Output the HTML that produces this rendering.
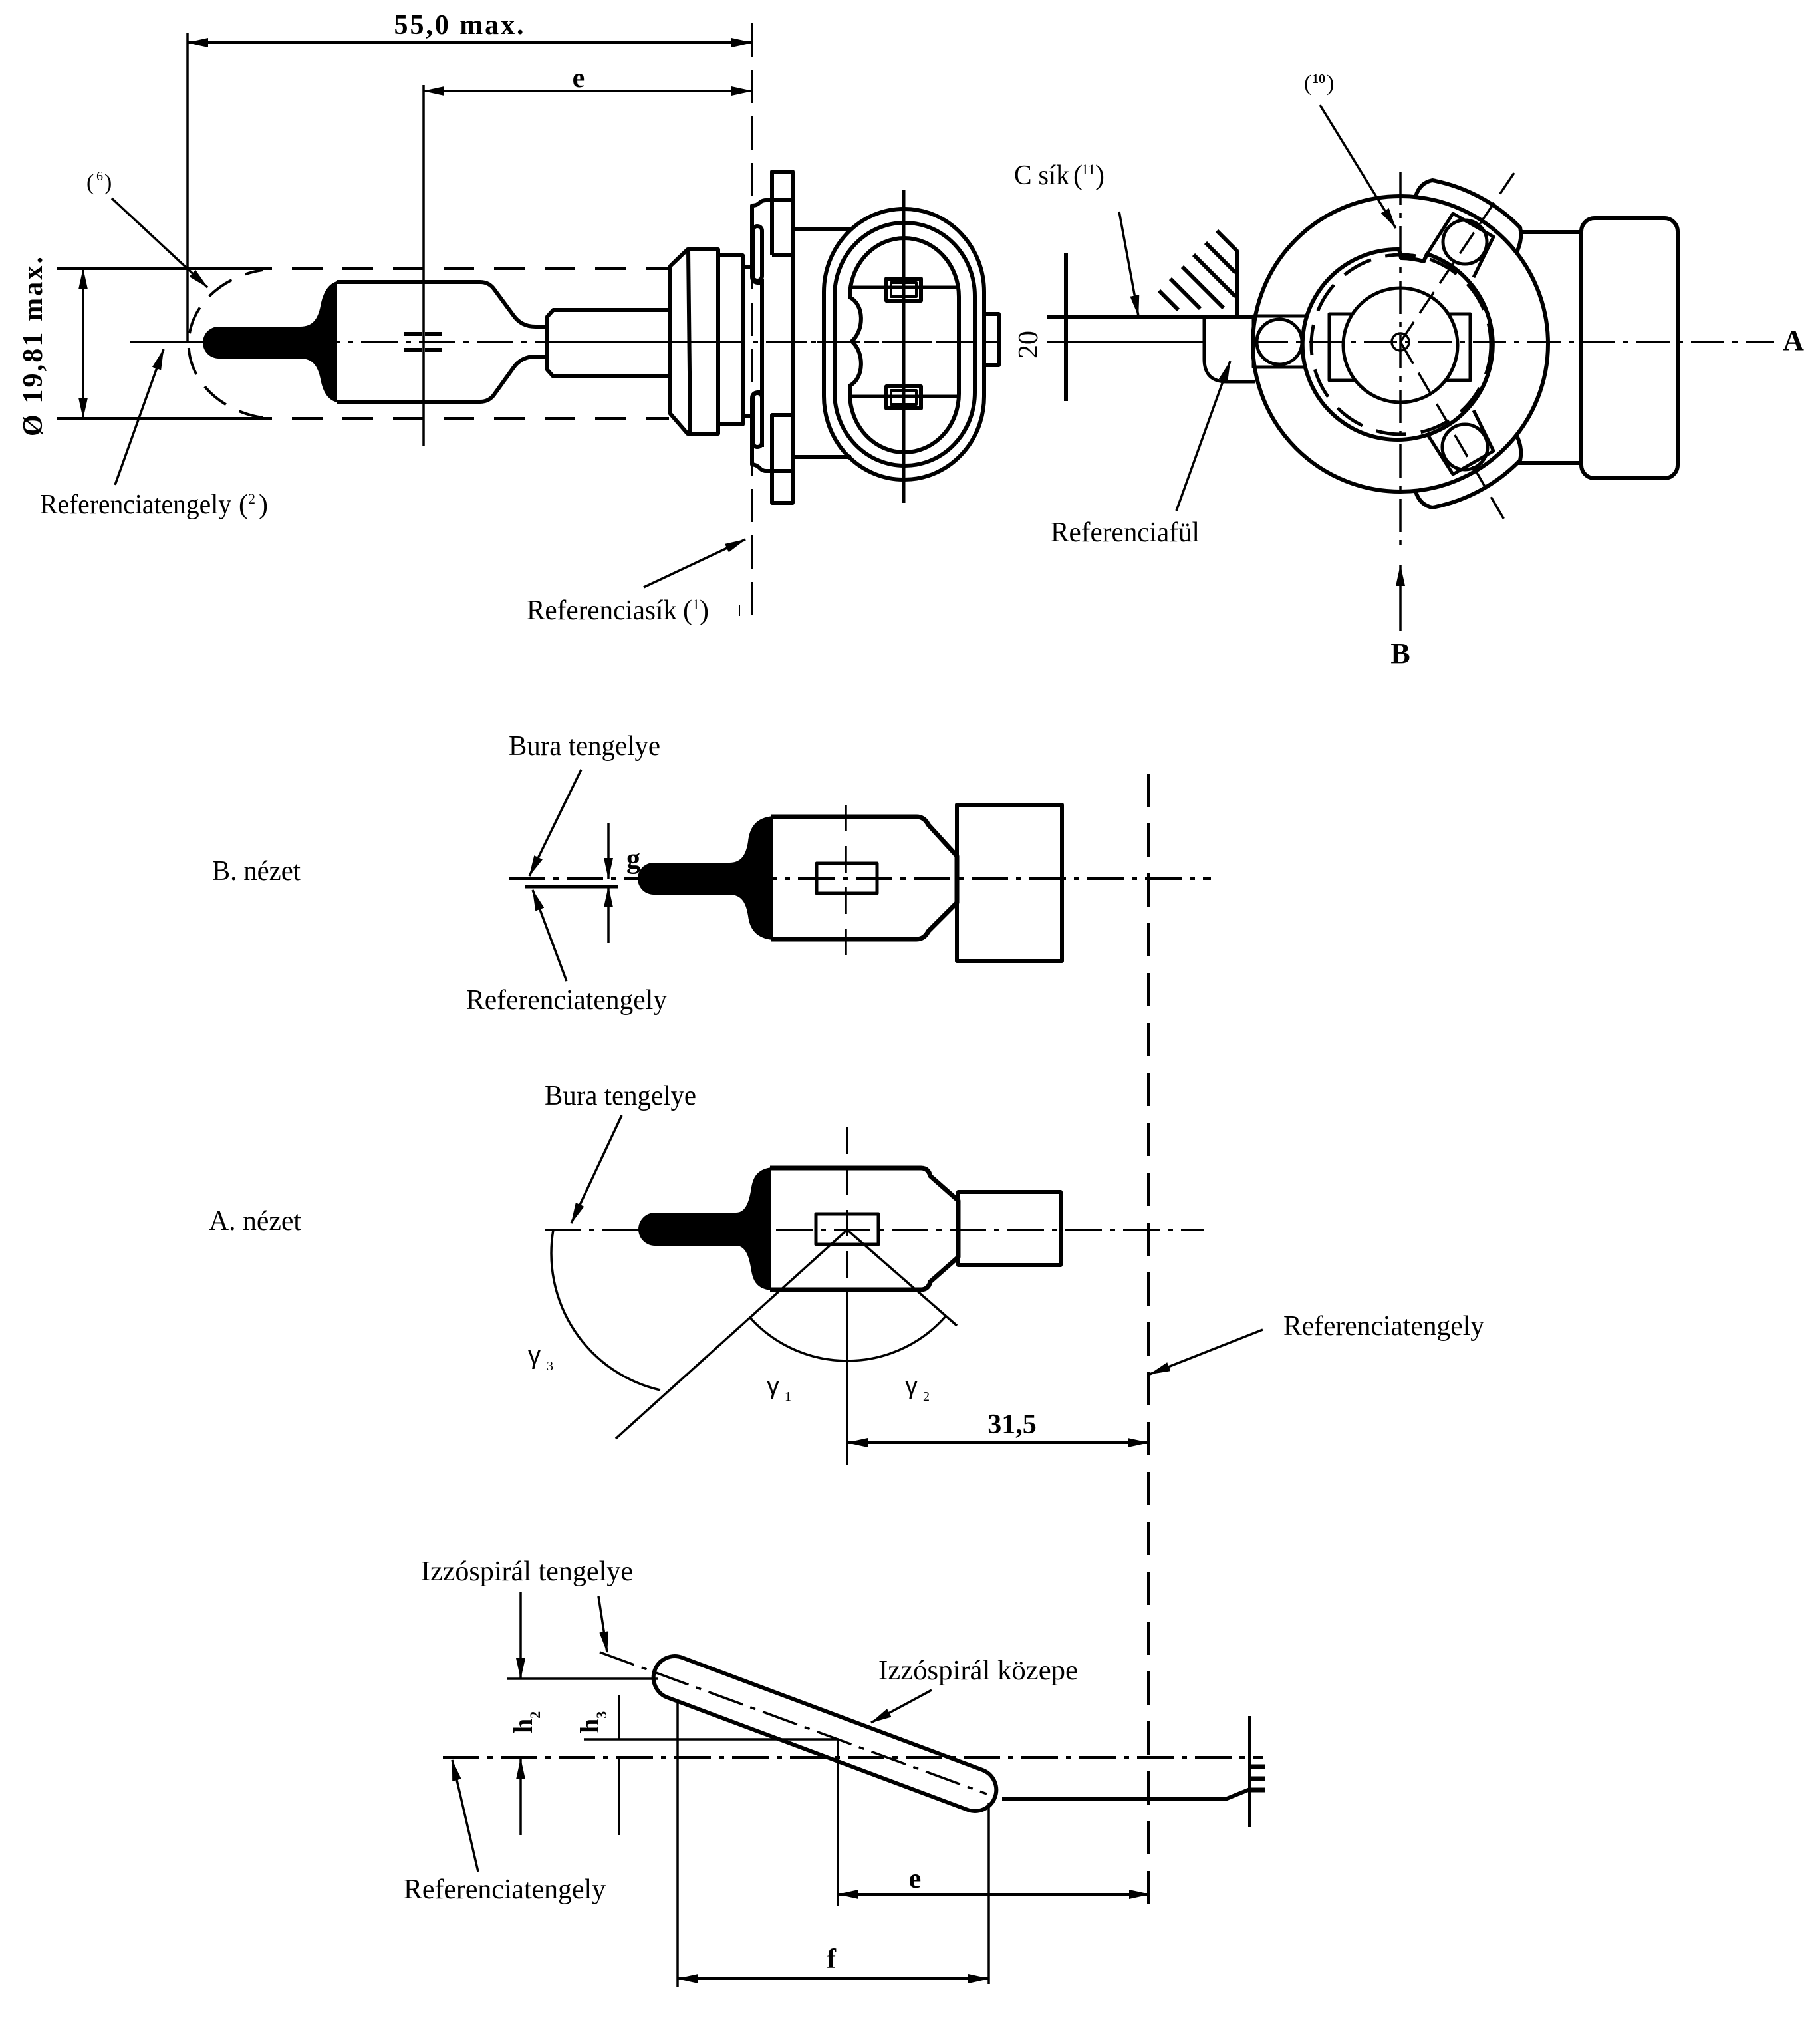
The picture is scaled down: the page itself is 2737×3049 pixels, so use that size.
<!DOCTYPE html>
<html><head><meta charset="utf-8"><style>
html,body{margin:0;padding:0;background:#fff}
svg{display:block}
text{font-family:"Liberation Serif",serif;fill:#000;stroke:none}
.b{font-weight:bold}
.s{font-family:"Liberation Sans",sans-serif}
</style></head><body>
<svg xmlns="http://www.w3.org/2000/svg" width="2737" height="3049" viewBox="0 0 2737 3049">
<defs>
<marker id="ar" viewBox="0 0 32 14" refX="31" refY="7" markerWidth="32" markerHeight="14" markerUnits="userSpaceOnUse" orient="auto-start-reverse"><path d="M0,0 L32,7 L0,14 Z" fill="#000"/></marker>
</defs>
<rect width="2737" height="3049" fill="#fff"/>

<!-- ================= TOP VIEW ================= -->
<g fill="none" stroke="#000" stroke-width="4">
  <line x1="282" y1="64" x2="1131" y2="64" marker-start="url(#ar)" marker-end="url(#ar)"/>
  <line x1="282" y1="50" x2="282" y2="512" stroke-width="3.5"/>
  <line x1="637" y1="137" x2="1131" y2="137" marker-start="url(#ar)" marker-end="url(#ar)"/>
  <line x1="637" y1="128" x2="637" y2="670" stroke-width="3.5"/>
  <line x1="86" y1="404" x2="409" y2="404"/>
  <line x1="86" y1="629" x2="409" y2="629"/>
  <line x1="125" y1="404" x2="125" y2="629" marker-start="url(#ar)" marker-end="url(#ar)"/>
  <line x1="409" y1="404" x2="1006" y2="404" stroke-dasharray="46 30" stroke-dashoffset="-30"/>
  <line x1="409" y1="629" x2="1006" y2="629" stroke-dasharray="46 30" stroke-dashoffset="-30"/>
  <line x1="1131" y1="35" x2="1131" y2="930" stroke-dasharray="50 20"/>
  <line x1="1112" y1="910" x2="1112" y2="926" stroke-width="2"/>
  <line x1="195" y1="514" x2="1505" y2="514" stroke-width="3.5" stroke-dasharray="55 12 8 12"/>
  <line x1="236" y1="514" x2="302" y2="514" stroke-width="3.5"/>
  <line x1="823" y1="514" x2="1118" y2="514" stroke-width="3.5"/>
  <path d="M395,406 A137,113 0 0 0 395,628" stroke-dasharray="42 22" stroke-dashoffset="15"/>
  <line x1="608" y1="502" x2="666" y2="502" stroke-width="6" stroke-dasharray="26 5"/>
  <line x1="608" y1="526" x2="666" y2="526" stroke-width="6" stroke-dasharray="26 5"/>
</g>
<path d="M507,423 C495,426 486,438 482,460 C478,480 470,491 451,491 L329,491 A24,24 0 0 0 329,539 L451,539 C470,539 478,550 482,570 C486,592 495,602 507,605 Z" fill="#000"/>
<g fill="none" stroke="#000" stroke-width="6" stroke-linejoin="round">
  <path d="M507,424 L722,424 Q736,424 744,436 L772,474 Q784,491 805,491 L823,491"/>
  <path d="M507,604 L722,604 Q736,604 744,592 L772,553 Q784,536 805,536 L823,536"/>
  <path d="M832,466 L1008,466 L1008,566 L832,566 L823,556 L823,476 Z"/>
  <path d="M1008,400 L1034,375 L1080,375 L1080,652 L1034,652 L1008,622 Z"/>
  <line x1="1035" y1="375" x2="1038" y2="652"/>
  <rect x="1080" y="384" width="37" height="254"/>
  <line x1="1117" y1="401" x2="1131" y2="401"/>
  <line x1="1117" y1="626" x2="1131" y2="626"/>
  <path d="M1161,301 L1152,301 Q1146,301 1142,305 Q1138,309 1131,309 L1131,416 Q1131,424 1139,425 L1146,425"/>
  <rect x="1132" y="340" width="14" height="82" rx="7"/>
  <line x1="1146" y1="419" x2="1146" y2="672"/>
  <path d="M1146,590 L1139,590 Q1131,591 1131,599 L1131,698 Q1138,699 1142,703 Q1146,708 1152,708 L1161,708"/>
  <rect x="1132" y="591" width="14" height="81" rx="7"/>
  <path d="M1161,384 L1161,258 L1192,258 L1192,756 L1161,756 L1161,624 L1192,624"/>
  <line x1="1161" y1="384" x2="1192" y2="384"/>
  <line x1="1161" y1="301" x2="1192" y2="301"/>
  <line x1="1161" y1="708" x2="1192" y2="708"/>
  <line x1="1192" y1="345" x2="1280" y2="345"/>
  <line x1="1192" y1="687" x2="1280" y2="687"/>
  <rect x="1239" y="314" width="241" height="407" rx="120" ry="125"/>
  <rect x="1255" y="335" width="211" height="365" rx="105" ry="110"/>
  <path d="M1360,358 A82,88 0 0 1 1442,446 L1442,592 A82,88 0 0 1 1360,680 A82,88 0 0 1 1278,592 L1278,580 C1300,568 1300,530 1281,513 C1300,496 1300,458 1278,447 A82,88 0 0 1 1360,358 Z"/>
  <line x1="1280" y1="432" x2="1441" y2="432" stroke-width="5"/>
  <line x1="1280" y1="596" x2="1441" y2="596" stroke-width="5"/>
  <rect x="1333" y="419" width="52" height="33"/>
  <rect x="1340" y="425" width="38" height="21" stroke-width="4"/>
  <rect x="1333" y="581" width="52" height="33"/>
  <rect x="1340" y="587" width="38" height="21" stroke-width="4"/>
  <line x1="1359" y1="286" x2="1359" y2="756" stroke-width="5"/>
  <rect x="1480" y="472" width="22" height="77"/>
  <line x1="1192" y1="514" x2="1500" y2="514" stroke-width="3.5" stroke-dasharray="22 14"/>
  <line x1="1603" y1="380" x2="1603" y2="603"/>
  <line x1="1574" y1="477" x2="1887" y2="477"/>
  <line x1="1574" y1="514" x2="1811" y2="514" stroke-width="4"/>
  <line x1="1743" y1="437" x2="1772" y2="466"/>
  <line x1="1760" y1="419" x2="1805" y2="464"/>
  <line x1="1778" y1="401" x2="1840" y2="463"/>
  <line x1="1795" y1="383" x2="1858" y2="446"/>
  <line x1="1813" y1="365" x2="1858" y2="410"/>
  <path d="M1830,347 L1860,377 L1860,477"/>
  <path d="M1811,477 L1811,540 Q1811,574 1845,574 L1887,574" stroke-width="5"/>
</g>

<!-- ================= RIGHT END VIEW ================= -->
<g fill="none" stroke="#000" stroke-width="6" stroke-linejoin="round">
  <rect x="1885" y="475" width="80" height="77" stroke-width="5"/>
  <circle cx="1924" cy="514" r="34" stroke-width="5"/>
  <circle cx="2106" cy="517" r="222"/>
  <path d="M2129,295 Q2135,275 2154,271 A250,250 0 0 1 2286,342 Q2290,360 2281,379"/>
  <path d="M2129,739 Q2135,759 2154,763 A250,250 0 0 0 2286,692 Q2290,674 2281,655"/>
  <line x1="2286" y1="349" x2="2378" y2="349"/>
  <line x1="2282" y1="696" x2="2378" y2="696"/>
  <rect x="2378" y="328" width="145" height="391" rx="20"/>
  <polyline points="2146,382 2185,321 2246,356 2216,417" stroke-width="5"/>
  <circle cx="2203" cy="364" r="33" stroke-width="5"/>
  <polyline points="2146,652 2185,713 2246,678 2216,617" stroke-width="5"/>
  <circle cx="2203" cy="672" r="34" stroke-width="5"/>
  <path d="M2146,382 A143,143 0 1 1 2104,375 L2107,388 A130,130 0 0 1 2141,393 Z" fill="#fff"/>
  <circle cx="2107" cy="518" r="135" stroke-dasharray="46 22" stroke-width="5"/>
  <rect x="1999" y="472" width="50" height="100" stroke-width="5"/>
  <rect x="2165" y="472" width="46" height="100" stroke-width="5"/>
  <circle cx="2106" cy="519" r="86" fill="#fff" stroke-width="5"/>
  <circle cx="2106" cy="514" r="13" stroke-width="3.5"/>
  <line x1="1887" y1="514" x2="2668" y2="514" stroke-width="3.5" stroke-dasharray="50 12 8 12"/>
  <line x1="2106" y1="258" x2="2106" y2="830" stroke-width="3.5" stroke-dasharray="50 12 8 12"/>
  <line x1="2277" y1="260" x2="2106" y2="514" stroke-width="3.5" stroke-dasharray="38 16"/>
  <line x1="2106" y1="514" x2="2269" y2="793" stroke-width="3.5" stroke-dasharray="38 16"/>
</g>

<g fill="none" stroke="#000" stroke-width="3.5">
  <line x1="168" y1="298" x2="312" y2="432" marker-end="url(#ar)"/>
  <line x1="173" y1="729" x2="246" y2="525" marker-end="url(#ar)"/>
  <line x1="968" y1="883" x2="1121" y2="811" marker-end="url(#ar)"/>
  <line x1="1683" y1="318" x2="1712" y2="475" marker-end="url(#ar)"/>
  <line x1="1769" y1="768" x2="1850" y2="543" marker-end="url(#ar)"/>
  <line x1="1985" y1="158" x2="2099" y2="343" marker-end="url(#ar)"/>
  <line x1="2106" y1="949" x2="2106" y2="850" marker-end="url(#ar)"/>
</g>

<text x="690" y="51" class="b" font-size="42" text-anchor="middle" textLength="195" lengthAdjust="spacing">55,0 max.</text>
<text x="870" y="131" class="b" font-size="42" text-anchor="middle">e</text>
<text transform="translate(63,521) rotate(-90)" class="b" font-size="42" text-anchor="middle" textLength="270" lengthAdjust="spacing">Ø 19,81 max.</text>
<text x="130" y="285" font-size="34">(</text><text x="145" y="271" font-size="20">6</text><text x="157" y="285" font-size="34">)</text>
<text x="60" y="772" font-size="42" textLength="288" lengthAdjust="spacingAndGlyphs">Referenciatengely</text>
<text x="359" y="772" font-size="42">(</text><text x="373" y="757" font-size="22">2</text><text x="389" y="772" font-size="42">)</text>
<text x="792" y="931" font-size="42" textLength="226" lengthAdjust="spacingAndGlyphs">Referenciasík</text>
<text x="1027" y="931" font-size="42">(</text><text x="1041" y="916" font-size="22">1</text><text x="1052" y="931" font-size="42">)</text>
<text x="1525" y="277" font-size="42" textLength="83" lengthAdjust="spacingAndGlyphs">C sík</text>
<text x="1614" y="277" font-size="42">(</text><text x="1626" y="262" font-size="22">11</text><text x="1647" y="277" font-size="42">)</text>
<text x="1580" y="814" font-size="42" textLength="224" lengthAdjust="spacingAndGlyphs">Referenciafül</text>
<text x="1961" y="136" font-size="34">(</text><text x="1973" y="125" font-size="20" class="b">10</text><text x="1995" y="136" font-size="34">)</text>
<text transform="translate(1560,518) rotate(-90)" font-size="42" text-anchor="middle">20</text>
<text x="2697" y="526" class="b" font-size="44" text-anchor="middle">A</text>
<text x="2106" y="997" class="b" font-size="44" text-anchor="middle">B</text>

<!-- ================= B VIEW ================= -->
<path d="M1163,1227 C1140,1229 1128,1240 1125,1265 C1122,1285 1115,1297 1097,1297 L983,1297 A24,24 0 0 0 983,1345 L1097,1345 C1115,1345 1122,1357 1125,1377 C1128,1400 1140,1411 1163,1413 Z" fill="#000"/>
<g fill="none" stroke="#000" stroke-width="6" stroke-linejoin="round">
  <path d="M1160,1228 L1378,1228 Q1390,1228 1396,1240 L1439,1287 L1439,1357 L1396,1400 Q1390,1412 1378,1412 L1160,1412" stroke-width="7"/>
  <rect x="1228" y="1298" width="91" height="45" stroke-width="5"/>
  <rect x="1439" y="1210" width="158" height="235"/>
  <line x1="1272" y1="1210" x2="1272" y2="1455" stroke-width="3.5" stroke-dasharray="40 22"/>
  <line x1="765" y1="1321" x2="1821" y2="1321" stroke-width="4" stroke-dasharray="55 12 8 12"/>
  <line x1="789" y1="1333" x2="929" y2="1333" stroke-width="5"/>
  <line x1="1727" y1="1163" x2="1727" y2="2866" stroke-width="4" stroke-dasharray="50 25"/>
</g>
<g fill="none" stroke="#000" stroke-width="3.5">
  <line x1="874" y1="1157" x2="796" y2="1317" marker-end="url(#ar)"/>
  <line x1="852" y1="1475" x2="801" y2="1338" marker-end="url(#ar)"/>
  <line x1="915" y1="1237" x2="915" y2="1321" marker-end="url(#ar)"/>
  <line x1="915" y1="1418" x2="915" y2="1333" marker-end="url(#ar)"/>
</g>
<text x="765" y="1135" font-size="42" textLength="228" lengthAdjust="spacingAndGlyphs">Bura tengelye</text>
<text x="319" y="1323" font-size="42" textLength="133" lengthAdjust="spacingAndGlyphs">B. nézet</text>
<text x="942" y="1305" class="b" font-size="42">g</text>
<text x="701" y="1517" font-size="42" textLength="302" lengthAdjust="spacingAndGlyphs">Referenciatengely</text>

<!-- ================= A VIEW ================= -->
<path d="M1160,1755 C1140,1758 1133,1768 1130,1785 C1127,1805 1122,1823 1107,1823 L985,1823 A25,25 0 0 0 985,1873 L1107,1873 C1122,1873 1127,1891 1130,1911 C1133,1928 1140,1938 1160,1940 Z" fill="#000"/>
<g fill="none" stroke="#000" stroke-width="6" stroke-linejoin="round">
  <path d="M1158,1756 L1385,1756 Q1396,1756 1399,1768 L1441,1805 L1441,1890 L1399,1927 Q1396,1939 1385,1939 L1158,1939" stroke-width="7"/>
  <rect x="1441" y="1792" width="154" height="110"/>
  <rect x="1227" y="1825" width="94" height="46" stroke-width="5"/>
  <line x1="819" y1="1849" x2="1810" y2="1849" stroke-width="4" stroke-dasharray="55 12 8 12"/>
  <line x1="1274" y1="1695" x2="1274" y2="1950" stroke-width="3.5" stroke-dasharray="40 22"/>
  <line x1="1274" y1="1950" x2="1274" y2="2203" stroke-width="3.5"/>
  <line x1="1274" y1="1849" x2="926" y2="2163" stroke-width="3.5"/>
  <line x1="1274" y1="1849" x2="1439" y2="1993" stroke-width="3.5"/>
  <path d="M1422,1979 A197,197 0 0 1 1128,1981" stroke-width="3.5"/>
  <path d="M832,1849 A211,211 0 0 0 993,2090" stroke-width="3.5"/>
</g>
<g fill="none" stroke="#000" stroke-width="3.5">
  <line x1="935" y1="1677" x2="859" y2="1839" marker-end="url(#ar)"/>
  <line x1="1899" y1="1999" x2="1729" y2="2066" marker-end="url(#ar)"/>
  <line x1="1274" y1="2169" x2="1727" y2="2169" stroke-width="4" marker-start="url(#ar)" marker-end="url(#ar)"/>
</g>
<text x="819" y="1661" font-size="42" textLength="228" lengthAdjust="spacingAndGlyphs">Bura tengelye</text>
<text x="314" y="1849" font-size="42" textLength="139" lengthAdjust="spacingAndGlyphs">A. nézet</text>
<text x="794" y="2050" font-size="38" class="s">γ</text><text x="822" y="2060" font-size="20">3</text>
<text x="1153" y="2096" font-size="38" class="s">γ</text><text x="1180" y="2106" font-size="20">1</text>
<text x="1361" y="2096" font-size="38" class="s">γ</text><text x="1388" y="2106" font-size="20">2</text>
<text x="1930" y="2007" font-size="42" textLength="302" lengthAdjust="spacingAndGlyphs">Referenciatengely</text>
<text x="1522" y="2155" class="b" font-size="42" text-anchor="middle">31,5</text>

<!-- ================= FILAMENT VIEW ================= -->
<g fill="none" stroke="#000" stroke-width="3.5">
  <line x1="666" y1="2642" x2="1900" y2="2642" stroke-width="4" stroke-dasharray="55 12 8 12"/>
  <line x1="902" y1="2484" x2="1484" y2="2697" stroke-dasharray="55 12 8 12"/>
  <rect x="967.5" y="2574.5" width="546" height="64" rx="32" transform="rotate(20.5 1240.5 2606.5)" stroke-width="6"/>
  <line x1="763" y1="2524" x2="990" y2="2524"/>
  <line x1="878" y1="2615" x2="1262" y2="2615"/>
  <line x1="931" y1="2548" x2="931" y2="2615"/>
  <line x1="931" y1="2642" x2="931" y2="2759"/>
  <line x1="1019" y1="2558" x2="1019" y2="2988"/>
  <line x1="1260" y1="2615" x2="1260" y2="2866"/>
  <line x1="1487" y1="2711" x2="1487" y2="2983"/>
  <line x1="783" y1="2393" x2="783" y2="2524" marker-end="url(#ar)"/>
  <line x1="900" y1="2400" x2="913" y2="2484" marker-end="url(#ar)"/>
  <line x1="783" y1="2759" x2="783" y2="2644" marker-end="url(#ar)"/>
  <line x1="1401" y1="2541" x2="1310" y2="2590" marker-end="url(#ar)"/>
  <line x1="719" y1="2814" x2="680" y2="2646" marker-end="url(#ar)"/>
  <line x1="1260" y1="2848" x2="1729" y2="2848" stroke-width="4" marker-start="url(#ar)" marker-end="url(#ar)"/>
  <line x1="1019" y1="2975" x2="1487" y2="2975" stroke-width="4" marker-start="url(#ar)" marker-end="url(#ar)"/>
  <path d="M1507,2704 L1845,2704 L1882,2689" stroke-width="6"/>
  <line x1="1879" y1="2580" x2="1879" y2="2747" stroke-width="4"/>
  <line x1="1882" y1="2656" x2="1902" y2="2656" stroke-width="7"/>
  <line x1="1882" y1="2674" x2="1902" y2="2674" stroke-width="7"/>
  <line x1="1882" y1="2691" x2="1902" y2="2691" stroke-width="7"/>
</g>
<text x="633" y="2376" font-size="42" textLength="319" lengthAdjust="spacingAndGlyphs">Izzóspirál tengelye</text>
<text x="1321" y="2525" font-size="42" textLength="300" lengthAdjust="spacingAndGlyphs">Izzóspirál közepe</text>
<text x="607" y="2854" font-size="42" textLength="304" lengthAdjust="spacingAndGlyphs">Referenciatengely</text>
<text transform="translate(800,2606) rotate(-90)" class="b" font-size="40">h<tspan font-size="22" dy="12">2</tspan></text>
<text transform="translate(900,2606) rotate(-90)" class="b" font-size="40">h<tspan font-size="22" dy="12">3</tspan></text>
<text x="1376" y="2838" class="b" font-size="42" text-anchor="middle">e</text>
<text x="1250" y="2959" class="b" font-size="42" text-anchor="middle">f</text>
</svg>
</body></html>
